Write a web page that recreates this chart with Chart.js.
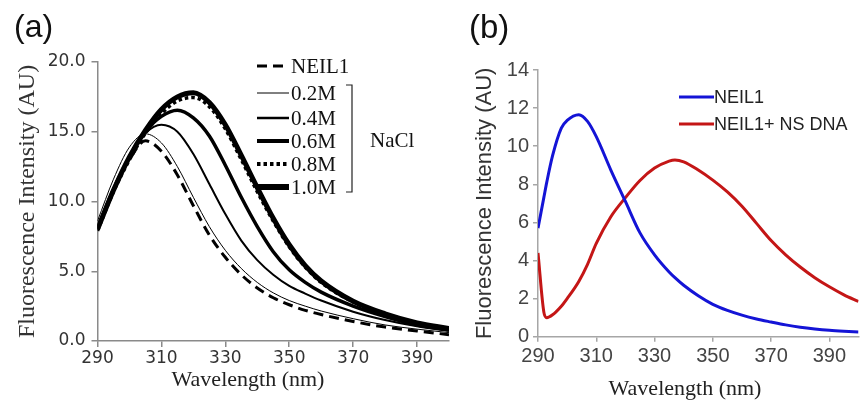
<!DOCTYPE html>
<html>
<head>
<meta charset="utf-8">
<script src="https://cdn.jsdelivr.net/npm/chart.js@4.4.1/dist/chart.umd.min.js"></script>
<style>
  body { margin: 0; background: #fff; }
  .panel { position: absolute; top: 0; height: 407px; }
  #wrapA { left: 0; width: 455px; }
  #wrapB { left: 455px; width: 409px; }
</style>
</head>
<body>
<div id="wrapA" class="panel"><canvas id="chartA"></canvas></div>
<div id="wrapB" class="panel"><canvas id="chartB"></canvas></div>
<script>
// (a) NEIL1 emission with rising NaCl
const aWavelength = [290, 295, 300, 305, 310, 315, 320, 325, 330, 335, 340, 345, 350, 355, 360, 370, 380, 390, 400];
const aNeil1 = [8.0, 10.9, 13.0, 14.35, 13.6, 11.9, 9.7, 7.6, 6.0, 4.75, 3.8, 3.1, 2.6, 2.2, 1.9, 1.4, 1.0, 0.72, 0.45];
const aNaCl02 = [8.6, 11.6, 13.9, 14.85, 14.2, 12.5, 10.3, 8.2, 6.5, 5.2, 4.2, 3.45, 2.9, 2.5, 2.15, 1.6, 1.15, 0.85, 0.6];
const aNaCl04 = [8.2, 11.0, 13.3, 14.9, 15.5, 15.0, 13.4, 11.25, 9.1, 7.2, 5.8, 4.75, 3.95, 3.4, 2.9, 2.1, 1.5, 1.05, 0.72];
const aNaCl06 = [8.1, 10.8, 13.2, 15.0, 16.1, 16.55, 16.0, 14.7, 12.6, 10.3, 8.2, 6.4, 5.1, 4.2, 3.5, 2.5, 1.75, 1.15, 0.8];
const aNaCl08 = [7.9, 10.7, 13.0, 14.9, 16.3, 17.2, 17.45, 16.8, 15.2, 13.0, 10.7, 8.6, 6.75, 5.3, 4.2, 2.8, 1.9, 1.25, 0.85];
const aNaCl10 = [8.0, 10.8, 13.2, 15.1, 16.6, 17.5, 17.8, 17.1, 15.5, 13.3, 11.0, 8.8, 6.9, 5.4, 4.3, 2.85, 1.95, 1.3, 0.9];
const aLabels = ['NEIL1', '0.2M', '0.4M', '0.6M', '0.8M', '1.0M'];
const aTicksX = [290, 310, 330, 350, 370, 390];
const aTicksY = [0, 5, 10, 15, 20];

// (b) NEIL1 alone vs with non-specific DNA
const bWavelength = [290, 292, 293, 295, 298, 300, 304, 307, 310, 315, 320, 325, 330, 335, 337, 340, 345, 350, 355, 360, 365, 370, 375, 380, 385, 390, 395, 400];
const bNeil1 = [5.7, 7.3, 8.1, 9.5, 10.95, 11.35, 11.65, 11.3, 10.5, 8.75, 7.1, 5.45, 4.3, 3.4, 3.1, 2.7, 2.15, 1.7, 1.38, 1.13, 0.93, 0.77, 0.62, 0.5, 0.41, 0.34, 0.29, 0.25];
const bNeil1Dna = [4.4, 1.3, 1.0, 1.15, 1.6, 2.0, 2.9, 3.8, 4.9, 6.3, 7.3, 8.2, 8.85, 9.22, 9.28, 9.18, 8.75, 8.22, 7.6, 6.85, 5.95, 5.05, 4.3, 3.66, 3.1, 2.62, 2.2, 1.85];
const bLabels = ['NEIL1', 'NEIL1+ NS DNA'];
const bTicksX = [290, 310, 330, 350, 370, 390];
const bTicksY = [0, 2, 4, 6, 8, 10, 12, 14];

const toPoints = (xs, ys) => xs.map((x, i) => ({x: x, y: ys[i]}));

const aStyles = [
    {borderWidth: 3, borderDash: [10, 6], legendWidth: 3},
    {borderWidth: 1, borderDash: [], legendWidth: 1},
    {borderWidth: 2, borderDash: [], legendWidth: 2.5},
    {borderWidth: 3.5, borderDash: [], legendWidth: 4},
    {borderWidth: 3.5, borderDash: [3.5, 3], legendWidth: 4},
    {borderWidth: 5, borderDash: [], legendWidth: 6}
];
const aSeries = [aNeil1, aNaCl02, aNaCl04, aNaCl06, aNaCl08, aNaCl10];

const panelA = {
    id: 'panelA',
    afterDraw(chart) {
        const ctx = chart.ctx;
        ctx.save();
        ctx.fillStyle = '#111';
        ctx.textBaseline = 'alphabetic';
        ctx.font = '32px "Liberation Sans"';
        ctx.fillText('(a)', 14, 37);
        ctx.fillStyle = '#222';
        ctx.font = '22px "Liberation Serif"';
        ctx.textAlign = 'center';
        ctx.fillText('Wavelength (nm)', 248, 386);

        // legend
        const rows = [66, 93, 118, 141, 164, 187];
        ctx.textAlign = 'left';
        ctx.textBaseline = 'middle';
        ctx.font = '21px "Liberation Serif"';
        aLabels.forEach((lab, i) => {
            const st = aStyles[i];
            ctx.strokeStyle = '#000';
            ctx.lineWidth = st.legendWidth;
            ctx.setLineDash(st.borderDash);
            ctx.beginPath();
            ctx.moveTo(257, rows[i]);
            ctx.lineTo(289, rows[i]);
            ctx.stroke();
            ctx.fillStyle = '#111';
            ctx.fillText(lab, 291, rows[i] + 1);
        });
        ctx.setLineDash([]);
        ctx.lineWidth = 1.2;
        ctx.strokeStyle = '#222';
        ctx.beginPath();
        ctx.moveTo(346, 85);
        ctx.lineTo(352, 85);
        ctx.lineTo(352, 192);
        ctx.lineTo(346, 192);
        ctx.stroke();
        ctx.fillText('NaCl', 370, 141);
        ctx.restore();
    }
};

const panelB = {
    id: 'panelB',
    afterDraw(chart) {
        const ctx = chart.ctx;
        ctx.save();
        ctx.fillStyle = '#111';
        ctx.textBaseline = 'alphabetic';
        ctx.font = '33px "Liberation Sans"';
        ctx.fillText('(b)', 14, 38);
        ctx.fillStyle = '#222';
        ctx.font = '22px "Liberation Serif"';
        ctx.textAlign = 'center';
        ctx.fillText('Wavelength (nm)', 230, 395);

        const rows = [97, 124];
        ctx.textAlign = 'left';
        ctx.textBaseline = 'middle';
        ctx.font = '18px "Liberation Sans"';
        chart.data.datasets.forEach((ds, i) => {
            ctx.strokeStyle = ds.borderColor;
            ctx.lineWidth = 3;
            ctx.beginPath();
            ctx.moveTo(224, rows[i]);
            ctx.lineTo(259, rows[i]);
            ctx.stroke();
            ctx.fillStyle = '#222';
            ctx.fillText(bLabels[i], 259, rows[i] + 1);
        });
        ctx.restore();
    }
};

new Chart(document.getElementById('chartA'), {
    type: 'line',
    data: {
        datasets: aSeries.map((vals, i) => ({
            label: aLabels[i],
            data: toPoints(aWavelength, vals),
            borderColor: '#000',
            borderWidth: aStyles[i].borderWidth,
            borderDash: aStyles[i].borderDash,
            borderCapStyle: 'butt',
            pointRadius: 0,
            fill: false,
            cubicInterpolationMode: 'monotone'
        }))
    },
    options: {
        animation: false,
        responsive: true,
        maintainAspectRatio: false,
        layout: {padding: {left: 0, top: 62, right: 6, bottom: 0}},
        plugins: {legend: {display: false}, tooltip: {enabled: false}},
        scales: {
            x: {
                type: 'linear',
                min: 290,
                max: 400,
                afterBuildTicks: s => { s.ticks = aTicksX.map(v => ({value: v})); },
                afterFit: s => { s.height = 66; },
                border: {color: '#8a8a8a', width: 1.5},
                grid: {drawOnChartArea: false, tickLength: 6, color: '#8a8a8a', lineWidth: 1.5},
                ticks: {
                    color: '#333',
                    padding: 1,
                    maxRotation: 0,
                    font: {family: '"DejaVu Sans"', size: 17}
                }
            },
            y: {
                min: 0,
                max: 20,
                afterBuildTicks: s => { s.ticks = aTicksY.map(v => ({value: v})); },
                afterFit: s => { s.width = 97.5; },
                border: {color: '#8a8a8a', width: 1.5},
                grid: {drawOnChartArea: false, tickLength: 6, color: '#8a8a8a', lineWidth: 1.5},
                ticks: {
                    color: '#333',
                    padding: 6,
                    font: {family: '"DejaVu Sans"', size: 17},
                    callback: v => v.toFixed(1)
                },
                title: {
                    display: true,
                    text: 'Fluorescence Intensity (AU)',
                    color: '#333',
                    padding: {top: 13, bottom: 0},
                    font: {family: '"Liberation Serif"', size: 24}
                }
            }
        }
    },
    plugins: [panelA]
});

new Chart(document.getElementById('chartB'), {
    type: 'line',
    data: {
        datasets: [
            {
                label: bLabels[0],
                data: toPoints(bWavelength, bNeil1),
                borderColor: '#1414d6',
                borderWidth: 3,
                pointRadius: 0,
                fill: false,
                cubicInterpolationMode: 'monotone'
            },
            {
                label: bLabels[1],
                data: toPoints(bWavelength, bNeil1Dna),
                borderColor: '#c41616',
                borderWidth: 3,
                pointRadius: 0,
                fill: false,
                cubicInterpolationMode: 'monotone'
            }
        ]
    },
    options: {
        animation: false,
        responsive: true,
        maintainAspectRatio: false,
        layout: {padding: {left: 0, top: 70, right: 5.5, bottom: 0}},
        plugins: {legend: {display: false}, tooltip: {enabled: false}},
        scales: {
            x: {
                type: 'linear',
                min: 290,
                max: 400,
                afterBuildTicks: s => { s.ticks = bTicksX.map(v => ({value: v})); },
                afterFit: s => { s.height = 70.3; },
                border: {color: '#a6a6a6', width: 1.5},
                grid: {drawOnChartArea: false, tickLength: 5, color: '#a6a6a6', lineWidth: 1.5},
                ticks: {
                    color: '#444',
                    padding: 3,
                    maxRotation: 0,
                    font: {family: '"Liberation Sans"', size: 20}
                }
            },
            y: {
                min: 0,
                max: 14,
                afterBuildTicks: s => { s.ticks = bTicksY.map(v => ({value: v})); },
                afterFit: s => { s.width = 83; },
                border: {color: '#a6a6a6', width: 1.5},
                grid: {drawOnChartArea: false, tickLength: 5, color: '#a6a6a6', lineWidth: 1.5},
                ticks: {
                    color: '#444',
                    padding: 4,
                    font: {family: '"Liberation Sans"', size: 20}
                },
                title: {
                    display: true,
                    text: 'Fluorescence Intensity (AU)',
                    color: '#333',
                    padding: {top: 17, bottom: 0},
                    font: {family: '"Liberation Sans"', size: 22}
                }
            }
        }
    },
    plugins: [panelB]
});
</script>
</body>
</html>
